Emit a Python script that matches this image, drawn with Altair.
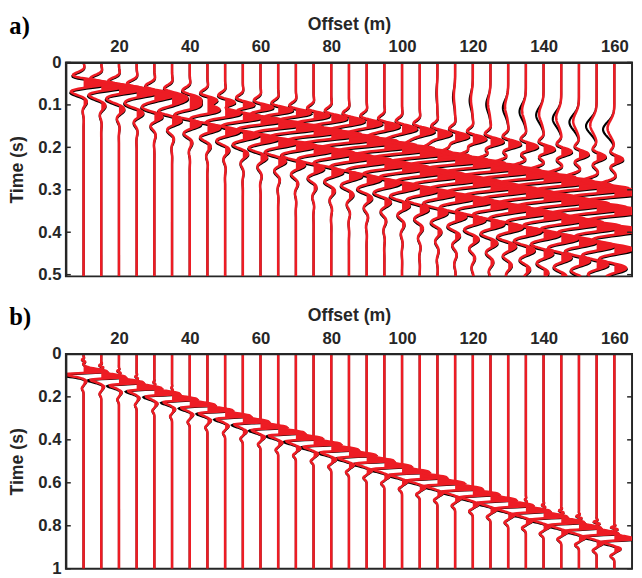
import numpy as np
import pandas as pd
import altair as alt

RED = "#ED1C24"
AX = "#262626"

# ---------------- trace positions (m) ----------------
offsets = [10, 15, 20, 25, 30, 35, 40, 45, 50, 55, 60, 65, 70, 75, 80, 85,
           90, 95, 100, 105, 110, 115, 120, 125, 130, 135, 140, 145, 150, 155, 160]
x_ticks = [20, 40, 60, 80, 100, 120, 140, 160]

# ---------------- panel a) : events ----------------
a_y_ticks = [0, 0.1, 0.2, 0.3, 0.4, 0.5]
a_period = 0.045
# faster (upper) arrival
a_up_t = [0.048, 0.054, 0.060, 0.066, 0.072, 0.078, 0.084, 0.090, 0.096, 0.102, 0.108,
          0.114, 0.120, 0.126, 0.132, 0.138, 0.144, 0.150, 0.156, 0.162, 0.168, 0.174,
          0.180, 0.186, 0.192, 0.198, 0.204, 0.210, 0.216, 0.222, 0.228]
a_up_amp = [5.0, 5.0, 5.0, 5.0, 5.0, 5.0, 5.0, 5.0, 4.8, 4.6, 4.5, 4.4, 4.3, 4.2, 4.1, 4.0,
            4.0, 4.0, 4.0, 4.0, 3.9, 3.8, 3.7, 3.6, 3.5, 3.3, 3.1, 2.9, 2.7, 2.5, 2.4]
# strong surface-wave band
a_main_t = [0.050, 0.059, 0.067, 0.076, 0.084, 0.093, 0.101, 0.110, 0.118, 0.127, 0.135,
            0.144, 0.152, 0.161, 0.169, 0.178, 0.186, 0.195, 0.203, 0.212, 0.220, 0.229,
            0.237, 0.246, 0.254, 0.263, 0.271, 0.280, 0.288, 0.297, 0.305]
a_main_amp = [2.0, 2.5, 3.0, 3.5, 4.0, 4.5, 5.0, 5.5, 6.0, 6.5, 7.0, 7.3, 7.6, 7.9, 8.2, 8.4,
              8.6, 8.8, 9.0, 9.0, 9.0, 9.0, 9.0, 9.0, 9.0, 9.0, 9.0, 9.0, 9.0, 9.0, 9.0]
# length (s) of the wave train that follows the band
a_train = [0.046, 0.049, 0.052, 0.055, 0.058, 0.061, 0.064, 0.067, 0.070, 0.073, 0.077,
           0.081, 0.085, 0.089, 0.093, 0.097, 0.102, 0.107, 0.112, 0.118, 0.124, 0.130,
           0.137, 0.144, 0.151, 0.157, 0.162, 0.167, 0.172, 0.176, 0.180]
# early far-offset bulge (observed trace stronger than predicted)
a_early_amp = [0, 0, 0, 0, 0, 0, 0, 0, 0, 0, 0, 0, 0, 0, 0, 0, 0, 0, 0, 0, 0.3,
               0.6, 0.9, 1.2, 1.5, 1.8, 2.1, 2.4, 2.7, 3.0, 3.2]
a_early_lead = 0.15

# ---------------- panel b) ----------------
b_y_ticks = [0, 0.2, 0.4, 0.6, 0.8, 1]
b_t = [0.082, 0.108, 0.134, 0.160, 0.186, 0.212, 0.238, 0.264, 0.290, 0.316, 0.342,
       0.368, 0.394, 0.420, 0.446, 0.472, 0.498, 0.524, 0.550, 0.576, 0.602, 0.628,
       0.654, 0.680, 0.706, 0.732, 0.758, 0.784, 0.810, 0.836, 0.862]
b_pos = [6.6, 6.8, 6.9, 7.0, 7.1, 7.1, 7.1, 7.1, 7.2, 7.3, 7.4, 7.4, 7.5, 7.6, 7.6, 7.6,
         7.6, 7.6, 7.6, 7.6, 7.6, 7.6, 7.4, 7.2, 7.0, 6.8, 6.6, 6.4, 6.2, 6.1, 6.0]
b_neg = [5.5, 3.0, 2.6, 2.4, 2.4, 2.4, 2.4, 2.4, 2.4, 2.4, 2.5, 2.6, 2.7, 2.8, 2.9, 3.0,
         3.1, 3.2, 3.3, 3.4, 3.4, 3.4, 3.4, 3.4, 3.4, 3.4, 3.4, 3.4, 3.4, 3.4, 3.4]
b_tail = [0.8, 0.8, 0.8, 0.8, 0.9, 0.9, 1.0, 1.0, 1.0, 1.1, 1.2, 1.2, 1.3, 1.3, 1.4, 1.4,
          1.5, 1.5, 1.5, 1.6, 1.6, 1.6, 1.7, 1.7, 1.7, 1.8, 1.8, 1.8, 1.8, 1.8, 1.8]
b_pre = [0.5, 0.6, 0.5, 0.4, 0.3, 0.2, 0, 0, 0, 0, 0, 0, 0, 0, 0, 0, 0, 0, 0, 0, 0,
         0, 0, 0, 0, 0.3, 0.5, 0.7, 0.8, 0.9, 1.0]


def gauss(tau, s):
    return np.exp(-(tau / s) ** 2)


def agauss(tau, c, s1, s2):
    s = np.where(tau < c, s1, s2)
    return np.exp(-((tau - c) / s) ** 2)


def trace_a(tt, i, shift, black):
    P = a_period
    k = 1.06 if black else 1.0
    tau = tt - (a_main_t[i] + shift)
    env = np.where(tau < 0, gauss(tau, 0.5 * P), gauss(tau, a_train[i]))
    w = k * a_main_amp[i] * np.cos(2 * np.pi * tau / P) * env
    tau = tt - (a_up_t[i] + shift)
    w += k * a_up_amp[i] * np.cos(2 * np.pi * tau / P) * gauss(tau, 0.5 * P)
    tau = tt - (a_main_t[i] - a_early_lead + shift)
    ke = 1.0 if black else 0.6
    w -= ke * a_early_amp[i] * gauss(tau, 0.025)
    return w


def trace_b(tt, i, shift, black):
    tau = tt - (b_t[i] + shift)
    kn = 1.3 if black else 1.0
    w = b_pos[i] * agauss(tau, 0.0, 0.016, 0.005)
    w -= kn * b_neg[i] * agauss(tau, 0.012, 0.004, 0.014)
    w += b_tail[i] * agauss(tau, 0.045, 0.010, 0.013)
    w -= 0.6 * b_tail[i] * agauss(tau, 0.078, 0.010, 0.012)
    w += b_pre[i] * np.sin(2 * np.pi * (tau + 0.05) / 0.022) * gauss(tau + 0.05, 0.014)
    return w


def build(fn, tmax, dt):
    tt = np.round(np.arange(0, tmax + 1e-9, dt), 4)
    rows = []
    for i, o in enumerate(offsets):
        r = fn(tt, i, 0.0, False)
        b = fn(tt, i, 0.003, True)
        keep = (np.abs(r) > 0.01) | (np.abs(b) > 0.01)
        keep = keep | np.roll(keep, 1) | np.roll(keep, -1)
        keep[0] = keep[-1] = True
        for j in np.nonzero(keep)[0]:
            rows.append((o, tt[j], round(o + r[j], 3), round(o + b[j], 3),
                         round(o + max(r[j], 0.0), 3)))
    return pd.DataFrame(rows, columns=["o", "t", "xr", "xb", "xf"])


df_a = build(trace_a, 0.504, 0.002)
df_b = build(trace_b, 1.0, 0.002)

W = 577


def panel(df, ydom, height, yvals, label):
    xs = alt.Scale(domain=[5, 165], nice=False, zero=False)
    ys = alt.Scale(domain=ydom, nice=False, zero=False, reverse=True)
    xaxis = alt.Axis(orient="top", values=x_ticks, title="Offset (m)", grid=False,
                     ticks=False, tickSize=0, labelPadding=11, labelBaseline="alphabetic",
                     labelFont="Liberation Sans", labelFontSize=17, labelFontWeight="bold",
                     labelColor=AX, titleFont="Liberation Sans", titleFontSize=18,
                     titleFontWeight="bold", titleColor=AX, titleY=-34,
                     titleBaseline="alphabetic", domainColor=AX, domainWidth=2,
                     zindex=1, labelFlush=False, labelOverlap=False)
    yaxis = alt.Axis(values=yvals, format="~g", title="Time (s)", grid=False,
                     ticks=False, tickSize=0, labelPadding=5,
                     labelFont="Liberation Sans", labelFontSize=17, labelFontWeight="bold",
                     labelColor=AX, titleFont="Liberation Sans", titleFontSize=18,
                     titleFontWeight="bold", titleColor=AX, titleX=-44, titleY=height / 2,
                     titleAngle=270, titleAlign="center", titleBaseline="alphabetic",
                     domainColor=AX, domainWidth=2, zindex=1, labelFlush=False,
                     labelOverlap=False)
    base = alt.Chart(df)
    Y = alt.Y("t:Q", scale=ys, axis=yaxis)
    black = base.mark_line(color="black", strokeWidth=2.2, clip=True).encode(
        x=alt.X("xb:Q", scale=xs, axis=xaxis), y=Y, detail="o:N", order="t:Q")
    fill = base.mark_area(color=RED, orient="horizontal", clip=True, opacity=1).encode(
        x=alt.X("xf:Q", scale=xs, axis=xaxis), x2="o:Q", y=Y, detail="o:N")
    red = base.mark_line(color=RED, strokeWidth=2.6, clip=True).encode(
        x=alt.X("xr:Q", scale=xs, axis=xaxis), y=Y, detail="o:N", order="t:Q")
    tdf = pd.DataFrame({"v": yvals})
    YT = alt.Y("v:Q", scale=ys, axis=yaxis)
    lt = alt.Chart(tdf).mark_rule(color=AX, strokeWidth=1.5).encode(
        y=YT, x=alt.value(0), x2=alt.value(5))
    rt = alt.Chart(tdf).mark_rule(color=AX, strokeWidth=1.5).encode(
        y=YT, x=alt.value(W - 5), x2=alt.value(W))
    lab = alt.Chart(pd.DataFrame({"s": [label]})).mark_text(
        font="Liberation Serif", fontWeight="bold", fontSize=25, align="left",
        baseline="alphabetic", color="black").encode(
        text="s:N", x=alt.value(-57.6), y=alt.value(-29))
    return alt.layer(black, fill, red, lt, rt, lab).properties(width=W, height=height)


pa = panel(df_a, [0, 0.504], 218, a_y_ticks, "a)")
pb = panel(df_b, [0, 1.0], 219, b_y_ticks, "b)")

chart = alt.vconcat(pa, pb, spacing=21).configure_view(
    stroke=AX, strokeWidth=2).properties(padding={"left": 0, "top": 0, "right": 0, "bottom": 0})

chart.save("out.html", embed_options={"renderer": "svg", "actions": False})
